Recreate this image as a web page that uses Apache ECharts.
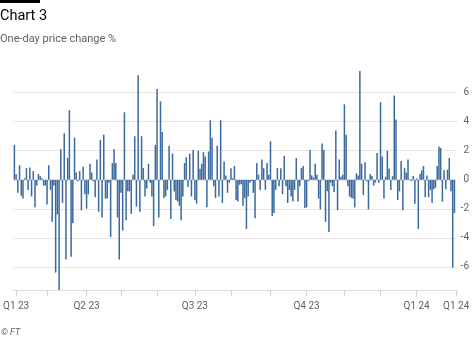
<!DOCTYPE html>
<html>
<head>
<meta charset="utf-8">
<script src="https://cdn.jsdelivr.net/npm/echarts@6/dist/echarts.min.js"></script>
<style>
  html, body { margin: 0; padding: 0; background: #ffffff; }
  #chart { width: 474px; height: 338px; }
</style>
</head>
<body>
<div id="chart"></div>
<script>
// One-day price change, %, one value per trading day (Feb 2023 - Feb 2024)
const dailyChange = [
  2.4, 0.4, -0.9, 1.0, -1.1, -1.3, 0.1, 0.8, -0.7, 0.85,
  -1.15, 0.6, -1.9, -0.4, 0.4, 0.25, 0.1, -0.4, -0.4, -1.7,
  1.0, -0.7, -2.9, -0.4, -6.4, -2.4, -7.6, 2.1, -1.6, 3.2,
  -5.5, 1.5, 4.8, -5.3, -3.0, 2.9, 0.5, -0.1, 0.6, -2.1,

  0.9, -1.0, -2.0, -1.0, 1.1, 0.5, -0.1, -1.2, 1.4, -2.2,
  2.75, -2.6, 3.1, -1.3, -1.3, -0.2, -3.95, 1.15, 2.1, 1.15,
  -2.6, -5.5, -0.9, -3.5, 4.65, -2.8, -0.8, -0.8, -2.35, 0.35,
  3.0, -1.85, 7.2, -2.2, 3.0, 0.8, -1.15, -0.6, 1.1, -0.2,
  -1.15, -3.2, 2.4,

  6.25, -2.6, 5.4, 3.3, -1.25, -1.15, -0.7, 2.35, -2.7, 1.8,
  -0.8, -1.4, -1.5, -1.8, -2.8, -1.15, 1.15, 1.55, -0.5, 1.8,
  -1.15, 2.05, -1.4, -1.65, 2.0, 0.75, 1.1, 1.9, 1.6, -1.9,
  1.95, 4.1, 2.9, -0.45, -1.25, 2.35, -1.15, 4.1, -1.6, 1.25,
  0.3, -0.9, -0.2, 0.8,

  0.1, 0.95, -1.4, -1.5, -0.35, -0.3, -1.8, -1.25, -3.4, -1.15,
  -0.2, -0.1, -0.9, -2.65, 1.15, 0.35, -0.7, 1.4, 0.8, -0.7,
  1.15, 0.35, 2.65, -2.5, -2.3, -0.7, 0.8, -0.45, 0.8, -1.0,
  1.65, -0.45, -1.6, -0.7, -1.15, -1.5, -0.7, 1.5, -1.5, -0.45,
  0.8, 0.95, -1.95, -1.9, -0.1,

  2.05, 0.3, 0.15, 1.1, 0.35, -1.3, -2.05, 2.5, 2.05, -2.9,
  -0.8, -3.6, -0.2, -0.45, -0.85, 3.4, -2.1, 1.4, 0.2, 0.35,
  5.2, 3.1, -0.45, -1.15, -1.25, -1.3, -1.9, 0.45, 0.3, 7.5,
  1.1, -1.05, 1.2, -0.1, -2.05, 0.4, 0.25, -0.4, -0.2, 1.85,
  -0.2, 5.35, 1.6, -1.3, 0.2,

  2.0, 0.75, -0.7, 0.25, 5.8, 4.15, -1.4, -0.8, 1.3, -2.1,
  0.8, 0.5, 1.4, 0.05, -0.1, 0.25, -1.65, 0.1, -3.4, 0.4,
  0.65, 0.95, -1.2, 0.3, -1.2, -0.7, -1.6, -0.65, -0.55, 0.95,
  2.3, 2.2, -1.5, 0.65, -0.65, 0.7, 1.5, -0.8, -6.05, -2.3,
  null   // 1 Feb 2024: axis end
];

// Month-start positions (day index) that carry a tick mark
const monthTicks = [1, 19, 42, 62, 83, 105, 126, 149, 170, 192, 213, 234, 257];
// Labelled positions and their text
const labelDays = [1, 42, 105, 170, 234, 257];
const labelText = ['Q1 23', 'Q2 23', 'Q3 23', 'Q4 23', 'Q1 24', 'Q1 24'];

const yTicks = [-6, -4, -2, 0, 2, 4, 6];

const days = dailyChange.map((_, i) => String(i));
const FONT = 'Roboto, "Noto Sans", sans-serif';
const GREY = '#66605c';

const chart = echarts.init(document.getElementById('chart'), null, { renderer: 'canvas' });

chart.setOption({
  animation: false,
  backgroundColor: '#ffffff',
  grid: { left: 12, right: 17, top: 69.5, bottom: 48, containLabel: false },
  graphic: [
    { type: 'rect', shape: { x: 0, y: 0, width: 40, height: 3 }, style: { fill: '#000000' } },
    { type: 'text', style: { text: 'Chart 3', x: 0, y: 16.5, fill: '#000000',
        font: '14.5px ' + FONT, verticalAlign: 'middle' } },
    { type: 'text', style: { text: 'One-day price change %', x: 0, y: 39.5, fill: GREY,
        font: '11px ' + FONT, verticalAlign: 'middle' } },
    { type: 'text', style: { text: '\u00A9 FT', x: 1, y: 333, fill: GREY,
        font: 'italic 9px ' + FONT, verticalAlign: 'middle' } }
  ],
  xAxis: {
    type: 'category',
    data: days,
    boundaryGap: true,
    axisLine: { show: true, onZero: false, lineStyle: { color: '#e0dcd8', width: 1 } },
    axisTick: {
      show: true,
      alignWithLabel: true,
      length: 6,
      interval: (i) => monthTicks.includes(i),
      lineStyle: { color: '#d6d2ce' }
    },
    axisLabel: {
      show: true,
      interval: (i) => labelDays.includes(i),
      formatter: (v, i) => labelText[labelDays.indexOf(i)] || '',
      color: GREY,
      fontFamily: FONT,
      fontSize: 10,
      margin: 11
    },
    splitLine: { show: false }
  },
  yAxis: {
    type: 'value',
    position: 'right',
    min: -7.6,
    max: 7.6,
    splitNumber: 8,
    minInterval: 2,
    maxInterval: 2,
    axisLine: { show: false },
    axisTick: { show: false },
    axisLabel: {
      color: GREY,
      fontFamily: FONT,
      fontSize: 10,
      align: 'right',
      margin: 12,
      showMinLabel: false,
      showMaxLabel: false,
      formatter: (v) => (yTicks.includes(v) ? String(v) : '')
    },
    splitLine: {
      show: true,
      showMinLine: false,
      showMaxLine: false,
      lineStyle: { color: '#e9e6e3', width: 1 }
    }
  },
  series: [{
    type: 'bar',
    data: dailyChange,
    barCategoryGap: '12%',
    itemStyle: { color: '#3a6a9f' },
    silent: true
  }]
});
</script>
</body>
</html>
